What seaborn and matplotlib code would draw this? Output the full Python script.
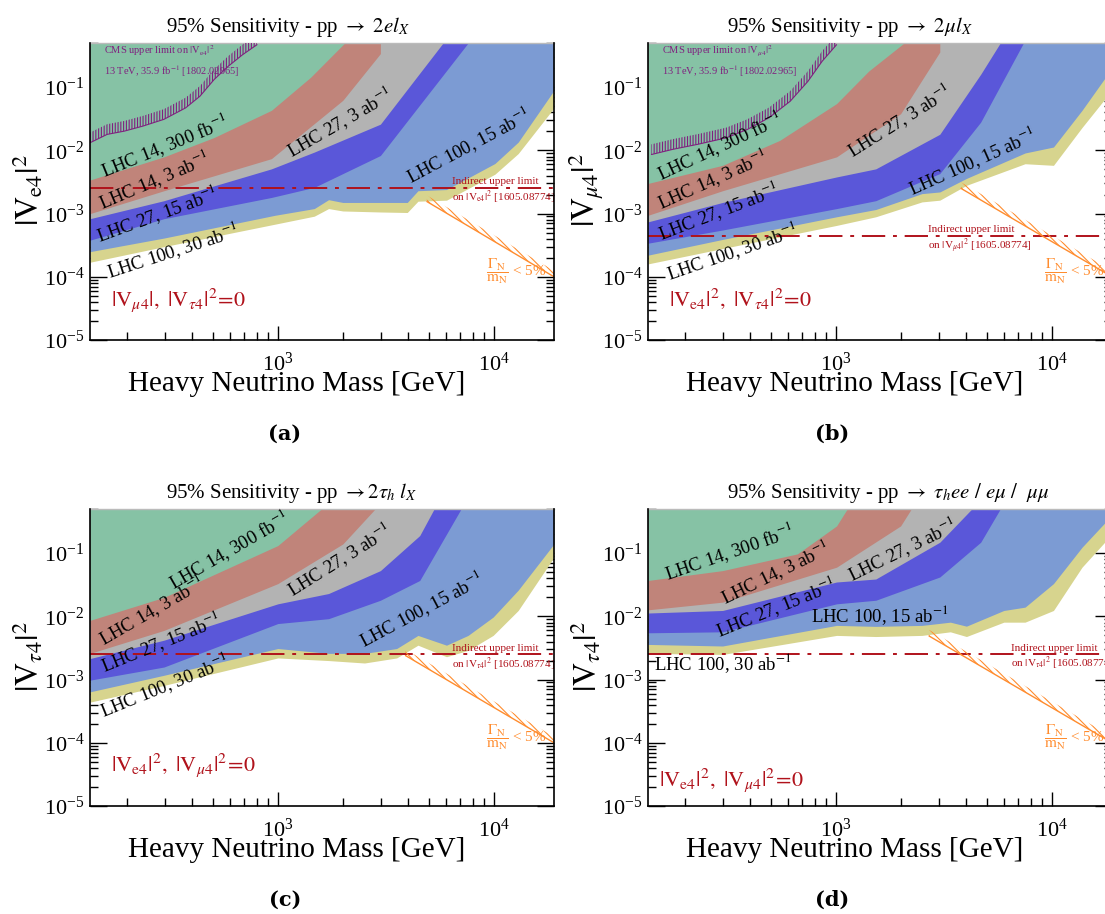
import numpy as np
import matplotlib
matplotlib.use('Agg')
import matplotlib.pyplot as plt
import matplotlib.ticker as mticker
import seaborn as sns

# heavy neutrino mass [GeV] and |V|^2
# lower edge of every sensitivity region (region extends up to the top)

# ---- (a) pp -> 2 e l_X
m_green_a = [135, 297, 507, 934, 1420, 2040]
v_green_a = [3.4e-3, 7.9e-3, 1.6e-2, 4.3e-2, 0.144, 0.5]
m_salmon_a = [135, 297, 934, 2000, 2985, 2985]
v_salmon_a = [1.0e-3, 2.3e-3, 7.4e-3, 6.2e-2, 0.34, 0.5]
m_gray_a = [135, 297, 934, 1475, 2985, 5820]
v_gray_a = [8.3e-4, 1.6e-3, 5.1e-3, 9.4e-3, 2.6e-2, 0.5]
m_blue_a = [135, 297, 934, 1475, 2985, 7600]
v_blue_a = [3.8e-4, 8.3e-4, 1.8e-3, 2.6e-3, 8.3e-3, 0.5]
m_low_a = [135, 297, 970, 1475, 1718, 2000, 2985, 3975, 4455, 6040, 10120, 12970, 19000]
v_lblue_a = [2.5e-4, 4.1e-4, 9.4e-4, 1.2e-3, 1.66e-3, 1.5e-3, 1.5e-3, 1.5e-3, 2.3e-3, 2.4e-3, 6.2e-3, 1.35e-2, 8.9e-2]
v_yellow_a = [1.7e-4, 3.0e-4, 6.8e-4, 9.1e-4, 1.2e-3, 1.1e-3, 1.06e-3, 1.04e-3, 1.57e-3, 1.63e-3, 4.2e-3, 8.9e-3, 4.7e-2]

# ---- (b) pp -> 2 mu l_X
m_green_b = [135, 299, 550, 1008, 1420, 2070]
v_green_b = [3.0e-3, 5.8e-3, 1.44e-2, 5.5e-2, 0.18, 0.5]
m_salmon_b = [135, 299, 1008, 1995, 3030, 3030]
v_salmon_b = [9.4e-4, 2.3e-3, 7.9e-3, 3.8e-2, 0.36, 0.5]
m_gray_b = [135, 299, 1008, 1531, 3030, 4685, 5770]
v_gray_b = [7.4e-4, 1.5e-3, 3.8e-3, 5.1e-3, 1.8e-2, 0.16, 0.5]
m_blue_b = [135, 299, 1008, 1531, 3030, 4685, 7390]
v_blue_b = [3.4e-4, 5.5e-4, 1.2e-3, 1.6e-3, 4.3e-3, 2.8e-2, 0.5]
m_low_b = [135, 299, 1008, 1531, 2505, 3030, 4025, 7520, 10180, 13800, 19000]
v_lblue_b = [2.2e-4, 3.9e-4, 8.9e-4, 1.16e-3, 2.07e-3, 2.2e-3, 3.6e-3, 9.1e-3, 1.13e-2, 4.3e-2, 0.2]
v_yellow_b = [1.6e-4, 2.8e-4, 6.5e-4, 8.9e-4, 1.53e-3, 1.63e-3, 2.8e-3, 6.15e-3, 5.8e-3, 2.3e-2, 9e-2]

# ---- (c) pp -> 2 tau_h l_X
m_green_c = [135, 297, 1000, 1592]
v_green_c = [8.65e-3, 2.0e-2, 0.132, 0.5]
m_salmon_c = [135, 297, 1000, 2000, 2820]
v_salmon_c = [2.6e-3, 6.0e-3, 3.3e-2, 0.14, 0.5]
m_gray_c = [135, 297, 1000, 1718, 2985, 4540, 5290]
v_gray_c = [2.15e-3, 4.2e-3, 1.58e-2, 2.3e-2, 5.3e-2, 0.19, 0.5]
m_blue_c = [135, 297, 1000, 1718, 2985, 4540, 7050]
v_blue_c = [9.8e-4, 1.58e-3, 7.7e-3, 9.2e-3, 1.8e-2, 3.7e-2, 0.5]
m_low_c = [135, 297, 1000, 1718, 2520, 3550, 4455, 6040, 7600, 9930, 12970, 19000]
v_lblue_c = [6.4e-4, 1.17e-3, 3.1e-3, 2.6e-3, 2.6e-3, 3.1e-3, 5.0e-3, 3.5e-3, 5.0e-3, 9.75e-3, 2.6e-2, 0.14]
v_yellow_c = [4.4e-4, 8.1e-4, 2.2e-3, 2.0e-3, 1.83e-3, 2.2e-3, 3.5e-3, 2.3e-3, 2.9e-3, 5.0e-3, 1.24e-2, 8.65e-2]

# ---- (d) pp -> tau_h ee / e mu / mu mu
m_green_d = [135, 299, 664, 1008, 1129]
v_green_d = [3.7e-2, 5.3e-2, 9.75e-2, 0.27, 0.5]
m_salmon_d = [135, 299, 1008, 1995, 2235]
v_salmon_d = [1.27e-2, 1.68e-2, 6.0e-2, 0.27, 0.5]
m_gray_d = [135, 299, 1008, 1531, 3030, 4260]
v_gray_d = [1.13e-2, 1.24e-2, 3.5e-2, 3.9e-2, 0.149, 0.5]
m_blue_d = [135, 299, 1008, 1531, 3030, 4685, 5770]
v_blue_d = [5.5e-3, 5.7e-3, 1.58e-2, 1.8e-2, 4.2e-2, 0.149, 0.5]
m_low_d = [135, 299, 1008, 1531, 2505, 3390, 4025, 5995, 7520, 10180, 13800, 19000]
v_lblue_d = [3.6e-3, 3.4e-3, 7.2e-3, 6.95e-3, 7.2e-3, 8.1e-3, 7.0e-3, 1.24e-2, 1.4e-2, 3.3e-2, 0.124, 0.4]
v_yellow_d = [2.6e-3, 2.5e-3, 5.0e-3, 4.8e-3, 5.0e-3, 5.7e-3, 4.8e-3, 8.1e-3, 8.1e-3, 1.24e-2, 6.0e-2, 0.2]

# CMS 13 TeV upper limit (a, b)
m_cms_a = [135, 162, 195, 237, 297, 374, 436, 507, 590, 688, 801]
v_cms_a = [0.0132, 0.0179, 0.0202, 0.0242, 0.031, 0.047, 0.072, 0.132, 0.215, 0.328, 0.47]
m_cms_b = [140, 176, 230, 311, 390, 490, 615, 743, 865, 1008]
v_cms_b = [8.6e-3, 0.0104, 0.0125, 0.0158, 0.0215, 0.0328, 0.060, 0.124, 0.258, 0.47]

# indirect limits
indirect = [2.5e-3, 4.4e-4, 2.5e-3, 2.5e-3]

# Gamma_N / m_N < 5% line end points
m_gam = [[4900, 19000], [3800, 19000], [3900, 19000], [2700, 19000]]
v_gam = [[1.55e-3, 1.0e-4], [2.5e-3, 1.0e-4], [2.4e-3, 1.0e-4], [4.9e-3, 1.0e-4]]

band_names = ['LHC 100, 30 ab$^{-1}$', 'LHC 100, 15 ab$^{-1}$', 'LHC 27, 15 ab$^{-1}$',
              'LHC 27, 3 ab$^{-1}$', 'LHC 14, 3 ab$^{-1}$', 'LHC 14, 300 fb$^{-1}$']
band_colors = ['#d7d48e', '#7c9bd3', '#5a57d9', '#b3b3b3', '#c0847a', '#86c2a5']

titles = [r'95% Sensitivity - pp $\rightarrow$ $2el_X$',
          r'95% Sensitivity - pp $\rightarrow$ $2\mu l_X$',
          r'95% Sensitivity - pp $\rightarrow 2\tau_h\ l_X$',
          r'95% Sensitivity - pp $\rightarrow$ $\tau_h ee\ /\ e\mu\ /\ \ \mu\mu$']
ylabels = [r'$|\mathrm{V}_{\mathrm{e4}}|^2$', r'$|\mathrm{V}_{\mu4}|^2$',
           r'$|\mathrm{V}_{\tau4}|^2$', r'$|\mathrm{V}_{\tau4}|^2$']
zero_txt = [r'$|\mathrm{V}_{\mu4}|,\ |\mathrm{V}_{\tau4}|^2\!=\!0$',
            r'$|\mathrm{V}_{\mathrm{e4}}|^2,\ |\mathrm{V}_{\tau4}|^2\!=\!0$',
            r'$|\mathrm{V}_{\mathrm{e4}}|^2,\ |\mathrm{V}_{\mu4}|^2\!=\!0$',
            r'$|\mathrm{V}_{\mathrm{e4}}|^2,\ |\mathrm{V}_{\mu4}|^2\!=\!0$']
ind_txt = [r'on $|\mathrm{V}_{\mathrm{e4}}|^2$ [1605.08774]', r'on $|\mathrm{V}_{\mu4}|^2$ [1605.08774]',
           r'on $|\mathrm{V}_{\tau4}|^2$ [1605.08774]', r'on $|\mathrm{V}_{\tau4}|^2$ [1605.08774]']
cms_txt = [r'CMS upper limit on $|\mathrm{V}_{\mathrm{e4}}|^2$', r'CMS upper limit on $|\mathrm{V}_{\mu4}|^2$']

bands = [
    [(m_low_a, v_yellow_a), (m_low_a, v_lblue_a), (m_blue_a, v_blue_a), (m_gray_a, v_gray_a), (m_salmon_a, v_salmon_a), (m_green_a, v_green_a)],
    [(m_low_b, v_yellow_b), (m_low_b, v_lblue_b), (m_blue_b, v_blue_b), (m_gray_b, v_gray_b), (m_salmon_b, v_salmon_b), (m_green_b, v_green_b)],
    [(m_low_c, v_yellow_c), (m_low_c, v_lblue_c), (m_blue_c, v_blue_c), (m_gray_c, v_gray_c), (m_salmon_c, v_salmon_c), (m_green_c, v_green_c)],
    [(m_low_d, v_yellow_d), (m_low_d, v_lblue_d), (m_blue_d, v_blue_d), (m_gray_d, v_gray_d), (m_salmon_d, v_salmon_d), (m_green_d, v_green_d)],
]

# label placement (x, y, angle) in the same band order as band_names
label_pos = [
    [(327, 2.6e-4, 18), (7600, 1.2e-2, 28), (276, 1.0e-3, 20), (1930, 2.8e-2, 30), (267, 3.4e-3, 23), (297, 1.2e-2, 22)],
    [(329, 2.5e-4, 19), (4260, 6.8e-3, 24), (286, 1.1e-3, 21), (1960, 3.0e-2, 32), (269, 3.5e-3, 24), (290, 1.2e-2, 25)],
    [(297, 8.1e-4, 22), (4590, 1.32e-2, 28), (288, 3.9e-3, 22), (1910, 7.85e-2, 32), (260, 1.27e-2, 30), (591, 0.113, 30)],
    [(299, 1.8e-3, 0), (1590, 1.04e-2, 0), (528, 1.4e-2, 22), (2020, 0.117, 26), (525, 5.0e-2, 26), (320, 0.104, 19)],
]
ind_pos = [(6400, 3.2e-3, 1.8e-3), (2680, 5.5e-4, 3.05e-4), (6400, 3.1e-3, 1.75e-3), (6460, 3.15e-3, 1.8e-3)]
zero_pos = [(168, 4.3e-5), (169, 4.5e-5), (168, 4.4e-5), (151, 2.6e-5)]

sns.set_theme(style='ticks', rc={'axes.edgecolor': 'black', 'xtick.color': 'black',
                                 'ytick.color': 'black', 'text.color': 'black',
                                 'axes.labelcolor': 'black'})
plt.rcParams['font.family'] = ['Liberation Serif', 'DejaVu Serif']
plt.rcParams['mathtext.fontset'] = 'stix'
plt.rcParams['hatch.linewidth'] = 0.8

W, H = 1105, 914
fig = plt.figure(figsize=(W / 100, H / 100), dpi=100)
ax_px = [(90, 43), (648, 43), (90, 509), (648, 509)]
title_px = [(166, 27), (727, 27), (166, 493), (727, 493)]
tag_px = [(285, 434, '(a)'), (832, 434, '(b)'), (285, 900, '(c)'), (832, 900, '(d)')]

red = '#b0121b'
orange = '#ff8c2e'
purple = '#80207f'

for i, (left, top) in enumerate(ax_px):
    ax = fig.add_axes([left / W, 1 - (top + 297) / H, 464 / W, 297 / H])
    ax.set_xscale('log')
    ax.set_yscale('log')

    for (m, v), c in zip(bands[i], band_colors):
        ax.fill_between(m, v, 1.0, color=c, lw=0, zorder=1)

    for name, (x, y, ang) in zip(band_names, label_pos[i]):
        ax.text(x, y, name, rotation=ang, ha='center', va='center',
                fontsize=13.5, rotation_mode='anchor', zorder=4)

    # CMS limit
    if i < 2:
        mc, vc = [(m_cms_a, v_cms_a), (m_cms_b, v_cms_b)][i]
        ax.fill_between(mc, vc, np.array(vc) * 1.45, facecolor='none', edgecolor=purple,
                        hatch='||||||', lw=0, zorder=3)
        sns.lineplot(x=mc, y=vc, ax=ax, color=purple, lw=0.8, zorder=3)
        ax.text(156, 0.38, cms_txt[i], color=purple, fontsize=7.5, va='center', zorder=4)
        ax.text(156, 0.18, r'13 TeV, 35.9 fb$^{-1}$ [1802.02965]', color=purple,
                fontsize=7.5, va='center', zorder=4)

    # indirect limit
    ax.axhline(indirect[i], color=red, lw=1.4, dashes=(12, 4, 2, 4), zorder=3)
    xi, y1, y2 = ind_pos[i]
    ax.text(xi, y1, 'Indirect upper limit', color=red, fontsize=8, va='center', zorder=4)
    ax.text(xi, y2, ind_txt[i], color=red, fontsize=8, va='center', zorder=4)

    # width condition
    ax.fill_between(m_gam[i], v_gam[i], np.array(v_gam[i]) * 1.25, facecolor='none',
                    edgecolor=orange, hatch='\\\\\\\\\\', lw=0, zorder=3)
    sns.lineplot(x=m_gam[i], y=v_gam[i], ax=ax, color=orange, lw=1.0, zorder=3)
    ax.text(9200, 1.25e-4, r'$\dfrac{\Gamma_\mathrm{N}}{\mathrm{m_N}}$ < 5%', color=orange,
            fontsize=11, va='center', zorder=4)

    ax.text(zero_pos[i][0], zero_pos[i][1], zero_txt[i], color=red, fontsize=16,
            va='center', zorder=4)

    ax.set_xlim(135, 19000)
    ax.set_ylim(1e-5, 0.5)
    ax.xaxis.set_major_locator(mticker.LogLocator(base=10, numticks=10))
    ax.xaxis.set_minor_locator(mticker.LogLocator(base=10, subs=np.arange(2, 10), numticks=30))
    ax.yaxis.set_major_locator(mticker.LogLocator(base=10, numticks=10))
    ax.yaxis.set_minor_locator(mticker.LogLocator(base=10, subs=np.arange(2, 10), numticks=30))
    ax.xaxis.set_minor_formatter(mticker.NullFormatter())
    ax.yaxis.set_minor_formatter(mticker.NullFormatter())
    ax.tick_params(which='both', direction='in', top=False, right=True, width=1, labelsize=16)
    ax.tick_params(axis='y', which='major', length=12, pad=4)
    ax.tick_params(axis='y', which='minor', length=6)
    ax.tick_params(axis='x', which='major', length=10, pad=9)
    ax.tick_params(axis='x', which='minor', length=6)
    for s in ['left', 'right', 'bottom']:
        ax.spines[s].set_linewidth(1.2)
        ax.spines[s].set_zorder(5)
    ax.spines['top'].set_color('#bbbbbb')
    ax.spines['top'].set_linewidth(1.0)

    ax.set_xlabel('Heavy Neutrino Mass [GeV]', fontsize=21)
    ax.xaxis.set_label_coords((297 - 90) / 464, -44 / 297)
    ax.xaxis.label.set_va('center')
    ax.set_ylabel(ylabels[i], fontsize=23)
    ax.yaxis.set_label_coords(-62 / 464, 150 / 297)
    ax.yaxis.label.set_va('center')

    tx, ty = title_px[i]
    fig.text(tx / W, 1 - ty / H, titles[i], fontsize=15, ha='left', va='center')

for x, y, t in tag_px:
    fig.text(x / W, 1 - y / H, t, fontsize=15, fontweight='bold', family='DejaVu Serif',
             ha='center', va='center')

fig.savefig('out.png', dpi=100)
